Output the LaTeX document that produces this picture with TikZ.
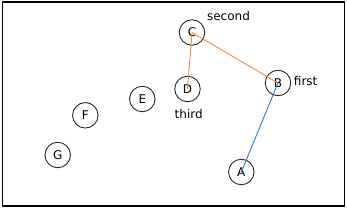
\documentclass[tikz,border=0pt]{standalone}
\usepackage{fontspec}
\setmainfont{DejaVu Sans}
\definecolor{edgeorange}{RGB}{240,140,70}
\definecolor{edgeblue}{RGB}{35,130,210}
\definecolor{ringgray}{RGB}{40,40,40}
\begin{document}
\begin{tikzpicture}[x=1pt,y=-1pt,
  vertex/.style={circle,draw=ringgray,line width=0.9pt,minimum size=25.5pt,inner sep=0pt,font=\fontsize{12}{14}\selectfont},
  tag/.style={font=\fontsize{12}{14}\selectfont,inner sep=0pt},
  orangeedge/.style={draw=edgeorange,line width=0.9pt},
  blueedge/.style={draw=edgeblue,line width=0.9pt}]
\useasboundingbox (0,0) rectangle (347,208);
\draw[line width=1.2pt] (2.5,2) rectangle (344.5,206);
\node[vertex] (C) at (192,32.5) {C};
\node[vertex] (B) at (278,83) {B};
\node[vertex] (D) at (187.5,89) {D};
\node[vertex] (E) at (142.3,99) {E};
\node[vertex] (F) at (85.3,115.3) {F};
\node[vertex] (G) at (57.7,155) {G};
\node[vertex] (A) at (241.3,172) {A};
\node[tag] (second) at (228.5,16) {second};
\node[tag] (first) at (305.7,81) {first};
\node[tag] (third) at (188.7,114.3) {third};
\draw[orangeedge] (C.center) -- (B.center);
\draw[orangeedge] (C.center) -- (D.center);
\draw[blueedge] (B.center) -- (A.center);
\end{tikzpicture}
\end{document}
